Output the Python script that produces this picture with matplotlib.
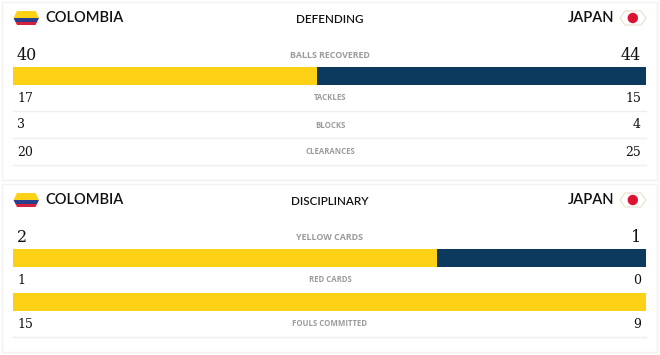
import matplotlib
matplotlib.use('Agg')
import matplotlib.pyplot as plt
from matplotlib.patches import Polygon, Rectangle, Circle

W, H = 660, 355
YELLOW = '#fdd116'
NAVY = '#0c3a5e'
GRAY = '#9b9b9b'
LINE = '#eeeeee'

home = 'COLOMBIA'
away = 'JAPAN'
sections = ['DEFENDING', 'DISCIPLINARY']

defending_labels = ['BALLS RECOVERED', 'TACKLES', 'BLOCKS', 'CLEARANCES']
defending_home = [40, 17, 3, 20]
defending_away = [44, 15, 4, 25]

discipline_labels = ['YELLOW CARDS', 'RED CARDS', 'FOULS COMMITTED']
discipline_home = [2, 1, 15]
discipline_away = [1, 0, 9]

fig = plt.figure(figsize=(W / 100, H / 100), dpi=100)
bg = fig.add_axes([0, 0, 1, 1])
bg.set_xlim(0, W)
bg.set_ylim(H, 0)
bg.axis('off')


def flag_points(x0, x1, y0, y1, c):
    m = (y0 + y1) / 2
    return [(x0 + c, y0), (x1 - c, y0), (x1, m), (x1 - c, y1), (x0 + c, y1), (x0, m)]


def colombia(y):
    pts = flag_points(13.5, 39, y - 7, y + 7, 3.5)
    clip = Polygon(pts, closed=True, fc='none', ec='none')
    bg.add_patch(clip)
    for top, h, col in [(y - 7, 7, YELLOW), (y, 4, '#2b3f8f'), (y + 4, 3, '#d8203a')]:
        r = Rectangle((13, top), 27, h, fc=col, ec='none')
        bg.add_patch(r)
        r.set_clip_path(clip)


def japan(y):
    pts = flag_points(620, 646, y - 7, y + 7, 5)
    bg.add_patch(Polygon(pts, closed=True, fc='white', ec='#e9e0cc', lw=0.8))
    bg.add_patch(Circle((632.8, y), 5.2, fc='#dc1430', ec='none'))


def bar(y0, y1, a, b):
    # the page rounds the split to a whole percent
    pct = round(100 * a / (a + b))
    ax = fig.add_axes([13 / W, 1 - y1 / H, 633 / W, (y1 - y0) / H])
    ax.barh([0], [pct], height=1, color=YELLOW)
    ax.barh([0], [100 - pct], left=[pct], height=1, color=NAVY)
    ax.set_xlim(0, 100)
    ax.set_ylim(-0.5, 0.5)
    ax.axis('off')


def header(y, title):
    colombia(y)
    japan(y)
    bg.text(45, y, home, family='Lato', fontweight='semibold', fontsize=10.5, color='#111111', va='center')
    bg.text(614, y, away, family='Lato', fontweight='semibold', fontsize=10.5, color='#111111', va='center', ha='right')
    bg.text(329.5, y + 1.5, title, family='Lato', fontweight='semibold', fontsize=8.4, color='#111111', va='center', ha='center')


def row(y, label, a, b, big=False, line=None):
    size = 11.5 if big else 9
    bg.text(17, y, str(a), family='DejaVu Serif', fontsize=size, color='#111111', va='center')
    bg.text(641, y, str(b), family='DejaVu Serif', fontsize=size, color='#111111', va='center', ha='right')
    bg.text(330, y, label, family='Open Sans', fontweight='bold', fontsize=6.4 if big else 5.6,
            color=GRAY, va='center', ha='center')
    if line is not None:
        bg.plot([13, 646], [line, line], color=LINE, lw=1)


# cards
for top, bottom in [(1.5, 179.5), (183.5, 352)]:
    bg.add_patch(Rectangle((1.5, top), 655.5, bottom - top, fc='white', ec='#f1f1f1', lw=1))

header(18, sections[0])
row(56, defending_labels[0], defending_home[0], defending_away[0], big=True)
bar(67, 84.5, defending_home[0], defending_away[0])
row(98, defending_labels[1], defending_home[1], defending_away[1], line=111)
row(125, defending_labels[2], defending_home[2], defending_away[2], line=138)
row(152, defending_labels[3], defending_home[3], defending_away[3], line=165)

header(200, sections[1])
row(238, discipline_labels[0], discipline_home[0], discipline_away[0], big=True)
bar(249, 266.5, discipline_home[0], discipline_away[0])
row(280, discipline_labels[1], discipline_home[1], discipline_away[1])
bar(293, 311, discipline_home[1], discipline_away[1])
row(324, discipline_labels[2], discipline_home[2], discipline_away[2], line=337)

fig.savefig('out.png', dpi=100)
